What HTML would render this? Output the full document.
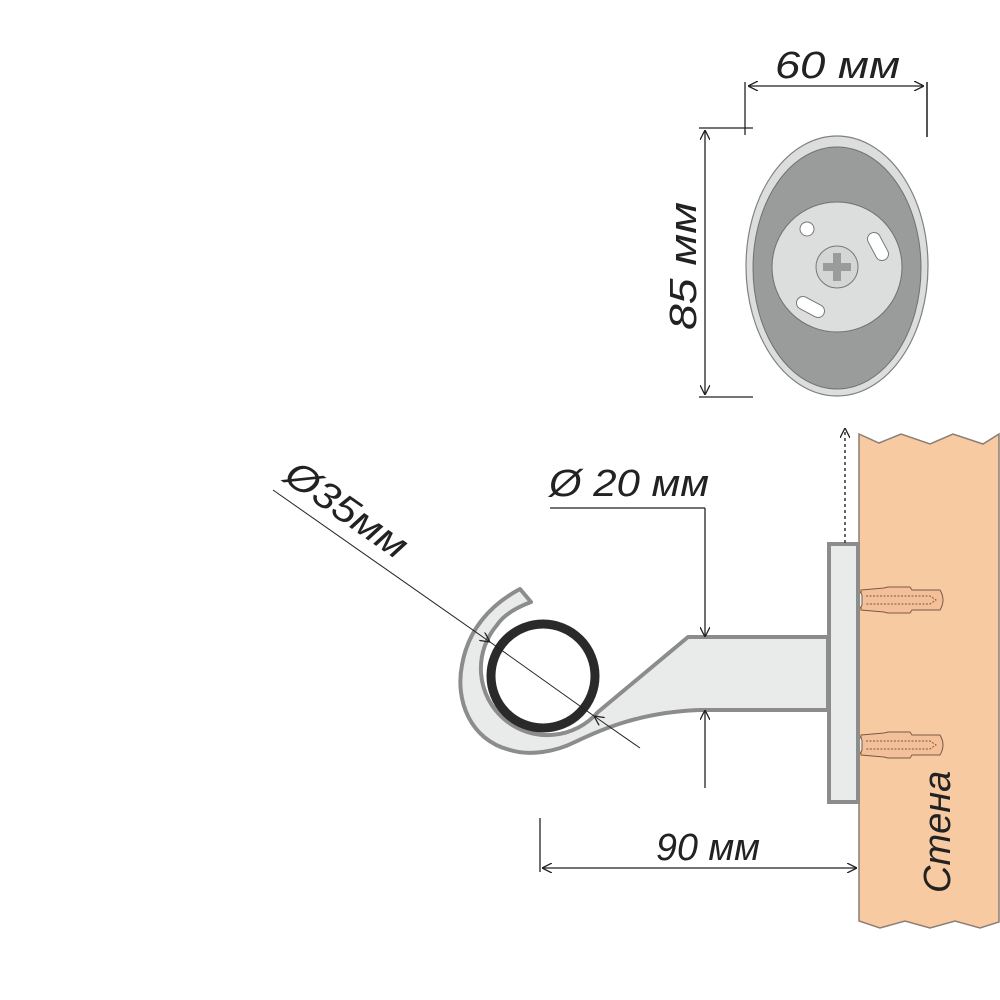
<!DOCTYPE html>
<html><head><meta charset="utf-8"><style>
html,body{margin:0;padding:0;background:#fff}
svg{display:block}
text{font-family:"Liberation Sans",sans-serif;font-style:italic;fill:#222}
</style></head><body>
<svg width="1000" height="1000" viewBox="0 0 1000 1000" xmlns="http://www.w3.org/2000/svg">
<defs>
<marker id="ar" viewBox="0 0 10 10" refX="10" refY="5" markerWidth="10" markerHeight="10" orient="auto-start-reverse" markerUnits="userSpaceOnUse">
<path d="M0,0 L10,5 L0,10" fill="none" stroke="#222" stroke-width="1.3"/>
</marker>
</defs>
<!-- wall -->
<path d="M859,434 L879,443 L901,434 L930,444 L953,434 L983,444 L999,434 L999,922 L980,928 L955,921 L930,928 L905,921 L880,928 L859,921 Z" fill="#f8caa2" stroke="#8a7e76" stroke-width="1.5"/>
<text transform="translate(950,893) rotate(-90)" font-size="38">Стена</text>
<!-- dowels -->
<g stroke="#7a5a45" stroke-width="1" fill="#f3c09a">
<path d="M861,590 L884,588 L888,587 L910,587 L912,590 L940,590 Q946,600 940,610 L912,610 L910,613 L888,613 L884,612 L861,610 Z"/>
<rect x="850" y="591" width="12" height="18" rx="5" fill="#eee"/>
<path d="M866,596 L930,596 L936,600 L930,604 L866,604" fill="none" stroke-dasharray="2 1.5"/>
<path d="M861,735 L884,733 L888,732 L910,732 L912,735 L940,735 Q946,745 940,755 L912,755 L910,758 L888,758 L884,757 L861,755 Z"/>
<rect x="850" y="736" width="12" height="18" rx="5" fill="#eee"/>
<path d="M866,741 L930,741 L936,745 L930,749 L866,749" fill="none" stroke-dasharray="2 1.5"/>
</g>
<!-- plate -->
<rect x="829" y="544" width="29" height="258" fill="#e9eaea" stroke="#8c8c8c" stroke-width="4"/>
<!-- arm & hook -->
<path d="M520,589 L531,602 C515,608 503,616 497,625 A64 64 0 0 0 598,712 L688,637 L828,637 L828,710 L700,710 C640,712 600,730 575,742 C555,752 530,756 510,750 C470,740 455,700 462,665 C468,630 490,605 520,589 Z" fill="#e9eaea" stroke="#8c8c8c" stroke-width="4" stroke-linejoin="round"/>
<!-- rod ring -->
<circle cx="543" cy="676" r="52" fill="#fff" stroke="#2a2a2a" stroke-width="9"/>
<!-- dotted -->
<line x1="845" y1="543" x2="845" y2="428" stroke="#333" stroke-width="1.5" stroke-dasharray="3 3" marker-end="url(#ar)"/>
<!-- oval -->
<ellipse cx="837" cy="266" rx="91" ry="130" fill="#dcdddd" stroke="#808080" stroke-width="1.2"/>
<ellipse cx="837" cy="268" rx="84" ry="121" fill="#9a9b9b" stroke="#707070" stroke-width="1"/>
<circle cx="837" cy="267" r="65" fill="#dcdddd" stroke="#707070" stroke-width="1"/>
<circle cx="837" cy="267" r="21" fill="#d4d5d5" stroke="#777" stroke-width="1"/>
<path d="M833,253 h8 v10 h10 v8 h-10 v10 h-8 v-10 h-10 v-8 h10 z" fill="#9a9b9b"/>
<circle cx="807" cy="229" r="7" fill="#fff" stroke="#777"/>
<line x1="874" y1="239" x2="882" y2="254" stroke="#777" stroke-width="14" stroke-linecap="round"/>
<line x1="874" y1="239" x2="882" y2="254" stroke="#fff" stroke-width="12" stroke-linecap="round"/>
<line x1="803" y1="303" x2="818" y2="311" stroke="#777" stroke-width="14" stroke-linecap="round"/>
<line x1="803" y1="303" x2="818" y2="311" stroke="#fff" stroke-width="12" stroke-linecap="round"/>
<!-- dims -->
<g stroke="#222" stroke-width="1.3" fill="none">
<line x1="748" y1="86" x2="924" y2="86" marker-start="url(#ar)" marker-end="url(#ar)"/>
<line x1="745" y1="82" x2="745" y2="135"/>
<line x1="927" y1="82" x2="927" y2="137" stroke="#555" stroke-width="2"/>
<line x1="699" y1="128" x2="753" y2="128"/>
<line x1="699" y1="397" x2="753" y2="397"/>
<line x1="705" y1="130" x2="705" y2="395" marker-start="url(#ar)" marker-end="url(#ar)"/>
<line x1="550" y1="508" x2="705" y2="508"/>
<line x1="705" y1="508" x2="705" y2="637" marker-end="url(#ar)"/>
<line x1="705" y1="710" x2="705" y2="788" marker-start="url(#ar)"/>
<line x1="540" y1="818" x2="540" y2="872"/>
<line x1="542" y1="868" x2="857" y2="868" marker-start="url(#ar)" marker-end="url(#ar)"/>
<line x1="273" y1="490" x2="490" y2="642" stroke-width="1" marker-end="url(#ar)"/>
<line x1="640" y1="748" x2="594" y2="716" stroke-width="1" marker-end="url(#ar)"/>
<line x1="490" y1="642" x2="594" y2="716" stroke-width="1"/>
</g>
<text x="775" y="78" font-size="38" textLength="125" lengthAdjust="spacingAndGlyphs">60  мм</text>
<text transform="translate(696,330) rotate(-90)" font-size="38" textLength="128" lengthAdjust="spacingAndGlyphs">85  мм</text>
<text x="549" y="496" font-size="38" textLength="160" lengthAdjust="spacingAndGlyphs">Ø 20  мм</text>
<text x="656" y="860" font-size="38" textLength="104" lengthAdjust="spacingAndGlyphs">90 мм</text>
<text transform="translate(282,480) rotate(35)" font-size="38" textLength="140" lengthAdjust="spacingAndGlyphs">Ø35мм</text>
</svg>
</body></html>
